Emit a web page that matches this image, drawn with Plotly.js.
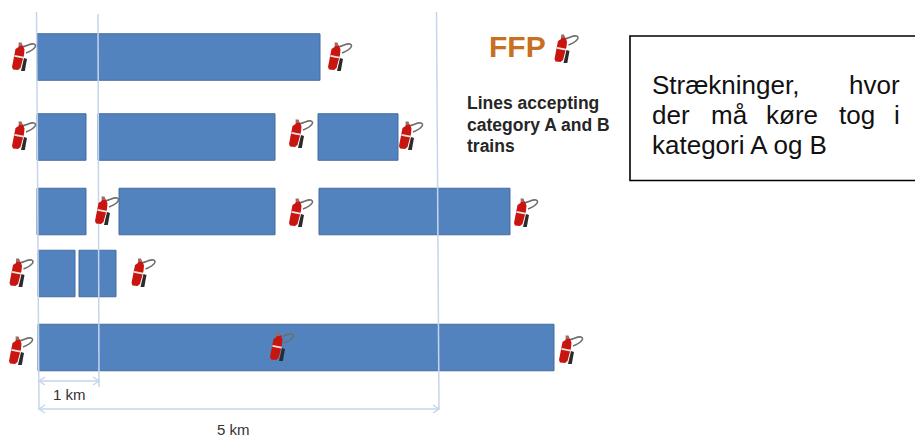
<!DOCTYPE html>
<html><head><meta charset="utf-8">
<script src="https://cdn.plot.ly/plotly-3.0.1.min.js"></script>
<style>html,body{margin:0;padding:0;background:#fff}#c{width:915px;height:437px}</style></head>
<body><div id="c"></div>
<script>
// Track segments, one entry per bar
const segStart = [37, 37, 98, 318, 37, 119, 319, 38, 79, 38];
const segEnd   = [320, 86, 275, 398, 86, 275, 510, 75, 116, 554];
const segRow   = [57, 137, 137, 137, 211.5, 211.5, 211.5, 273.5, 273.5, 347.5];
const rowHeight = 46.5;

// Extinguisher locations
const extX = [24, 340, 24, 301, 411, 107, 301, 526, 21.5, 143.5, 21, 282, 571, 566.5];
const extY = [57, 57, 136, 134, 136, 211, 213, 213, 273, 273, 351, 347, 350, 49];

// Distance guides
const guideX0 = [36.5, 98, 436.5];
const guideY0 = [12, 14, 12];
const guideX1 = [39, 99, 439];
const guideY1 = [409, 387, 409];
const dimFrom = [39, 39];
const dimTo   = [99, 439];
const dimY    = [381, 409];
const dimLabels = ['1 km', '5 km'];
const dimLabelX = [69, 233.5];
const dimLabelY = [394, 429];

const guideColor = '#c5d6ec';
const barFill = '#4f81bd';
const barLine = '#41699b';

const traces = [];
guideX0.forEach((x, i) => traces.push({type:'scatter', mode:'lines', x:[x, guideX1[i]], y:[guideY0[i], guideY1[i]],
  line:{color:guideColor, width:1.5}, hoverinfo:'skip'}));
dimFrom.forEach((x, i) => traces.push({type:'scatter', mode:'lines', x:[x, dimTo[i]], y:[dimY[i], dimY[i]],
  line:{color:guideColor, width:1.5}, hoverinfo:'skip'}));
traces.push({type:'bar', orientation:'h', base:segStart, x:segEnd.map((e,i)=>e-segStart[i]), y:segRow, width:rowHeight,
  marker:{color:barFill, opacity:0.98, line:{color:barLine, width:1}}, hoverinfo:'skip'});

// Extinguisher glyph: outline in local units, placed at each location
const shapes = [];
const glyph = (cx, cy, pts) => 'M' + pts.map(p => (cx+p[0]).toFixed(1)+','+(cy+p[1]).toFixed(1)).join('L') + 'Z';
extX.forEach((cx, i) => {
  const cy = extY[i];
  const s = (path, fill) => shapes.push({type:'path', xref:'x', yref:'y', path, fillcolor:fill, line:{color:'rgba(0,0,0,0)', width:0}, layer:'above'});
  // hose
  shapes.push({type:'path', xref:'x', yref:'y', layer:'above',
    path:`M${cx-2},${cy-10}C${cx+3},${cy-11} ${cx+7},${cy-14} ${cx+10},${cy-13}C${cx+13},${cy-12} ${cx+12},${cy-8} ${cx+2},${cy-4}`,
    line:{color:'#6e6e6e', width:1.6}});
  // dark cylinder behind
  s(glyph(cx,cy,[[0,1],[3,2],[0.8,14],[-3,14]]), '#2b2b2b');
  // red body
  s(glyph(cx,cy,[[-5,-13],[-3,-14],[-1,-11],[0.5,-7.5],[0,-2],[-3.5,11],[-6,13],[-11,12.5],[-12,10],[-8.5,-8],[-5.5,-10]]), '#c8150f');
  // white band
  s(glyph(cx,cy,[[-9.3,-2],[-0.3,-0.2],[-0.7,1.6],[-9.7,-0.2]]), '#f2e6e2');
  // head
  s(glyph(cx,cy,[[-5.5,-14.5],[-2.5,-14.5],[-1.5,-11],[-5,-11]]), '#9a6a66');
});
// Text box
shapes.push({type:'rect', xref:'x', yref:'y', x0:630, x1:920, y0:36, y1:180.5, line:{color:'#000', width:1.6}, fillcolor:'rgba(0,0,0,0)'});

const ann = (text, x, y, size, color, bold, xanchor) => ({text: bold ? '<b>'+text+'</b>' : text, x, y, xref:'x', yref:'y', showarrow:false,
  xanchor:xanchor||'left', yanchor:'middle', align:'left', font:{family:'"Liberation Sans", Arial, sans-serif', size, color}});

const annotations = [
  ann('FFP', 487, 46.5, 30, '#c8701f', true),
  ann('Lines accepting', 465, 103, 17.5, '#262626', true),
  ann('category A and B', 465, 124.5, 17.5, '#262626', true),
  ann('trains', 465, 146, 17.5, '#262626', true),
  ann('Strækninger,', 650, 85, 26, '#111'),
  ann('hvor', 902, 85, 26, '#111', false, 'right'),
  ann('der', 650, 115, 26, '#111'),
  ann('må', 709, 115, 26, '#111'),
  ann('køre', 764, 115, 26, '#111'),
  ann('tog', 837, 115, 26, '#111'),
  ann('i', 902, 115, 26, '#111', false, 'right'),
  ann('kategori A og B', 650, 145, 26, '#111'),
];
dimLabels.forEach((t,i)=>annotations.push(ann(t, dimLabelX[i], dimLabelY[i], 15, '#333', false, 'center')));

// Arrowheads at dimension ends
[0,1].forEach(i => {
  [[dimFrom[i],1],[dimTo[i],-1]].forEach(([x,d]) => shapes.push({type:'path', xref:'x', yref:'y',
    path:`M${x+d*6},${dimY[i]-4}L${x},${dimY[i]}L${x+d*6},${dimY[i]+4}`, line:{color:guideColor, width:1.5}}));
});

Plotly.newPlot('c', traces, {
  width:915, height:437, margin:{l:0,r:0,t:0,b:0}, showlegend:false,
  paper_bgcolor:'#fff', plot_bgcolor:'#fff',
  xaxis:{range:[0,915], visible:false, fixedrange:true},
  yaxis:{range:[437,0], visible:false, fixedrange:true},
  shapes, annotations
}, {displayModeBar:false, staticPlot:true});
</script></body></html>
